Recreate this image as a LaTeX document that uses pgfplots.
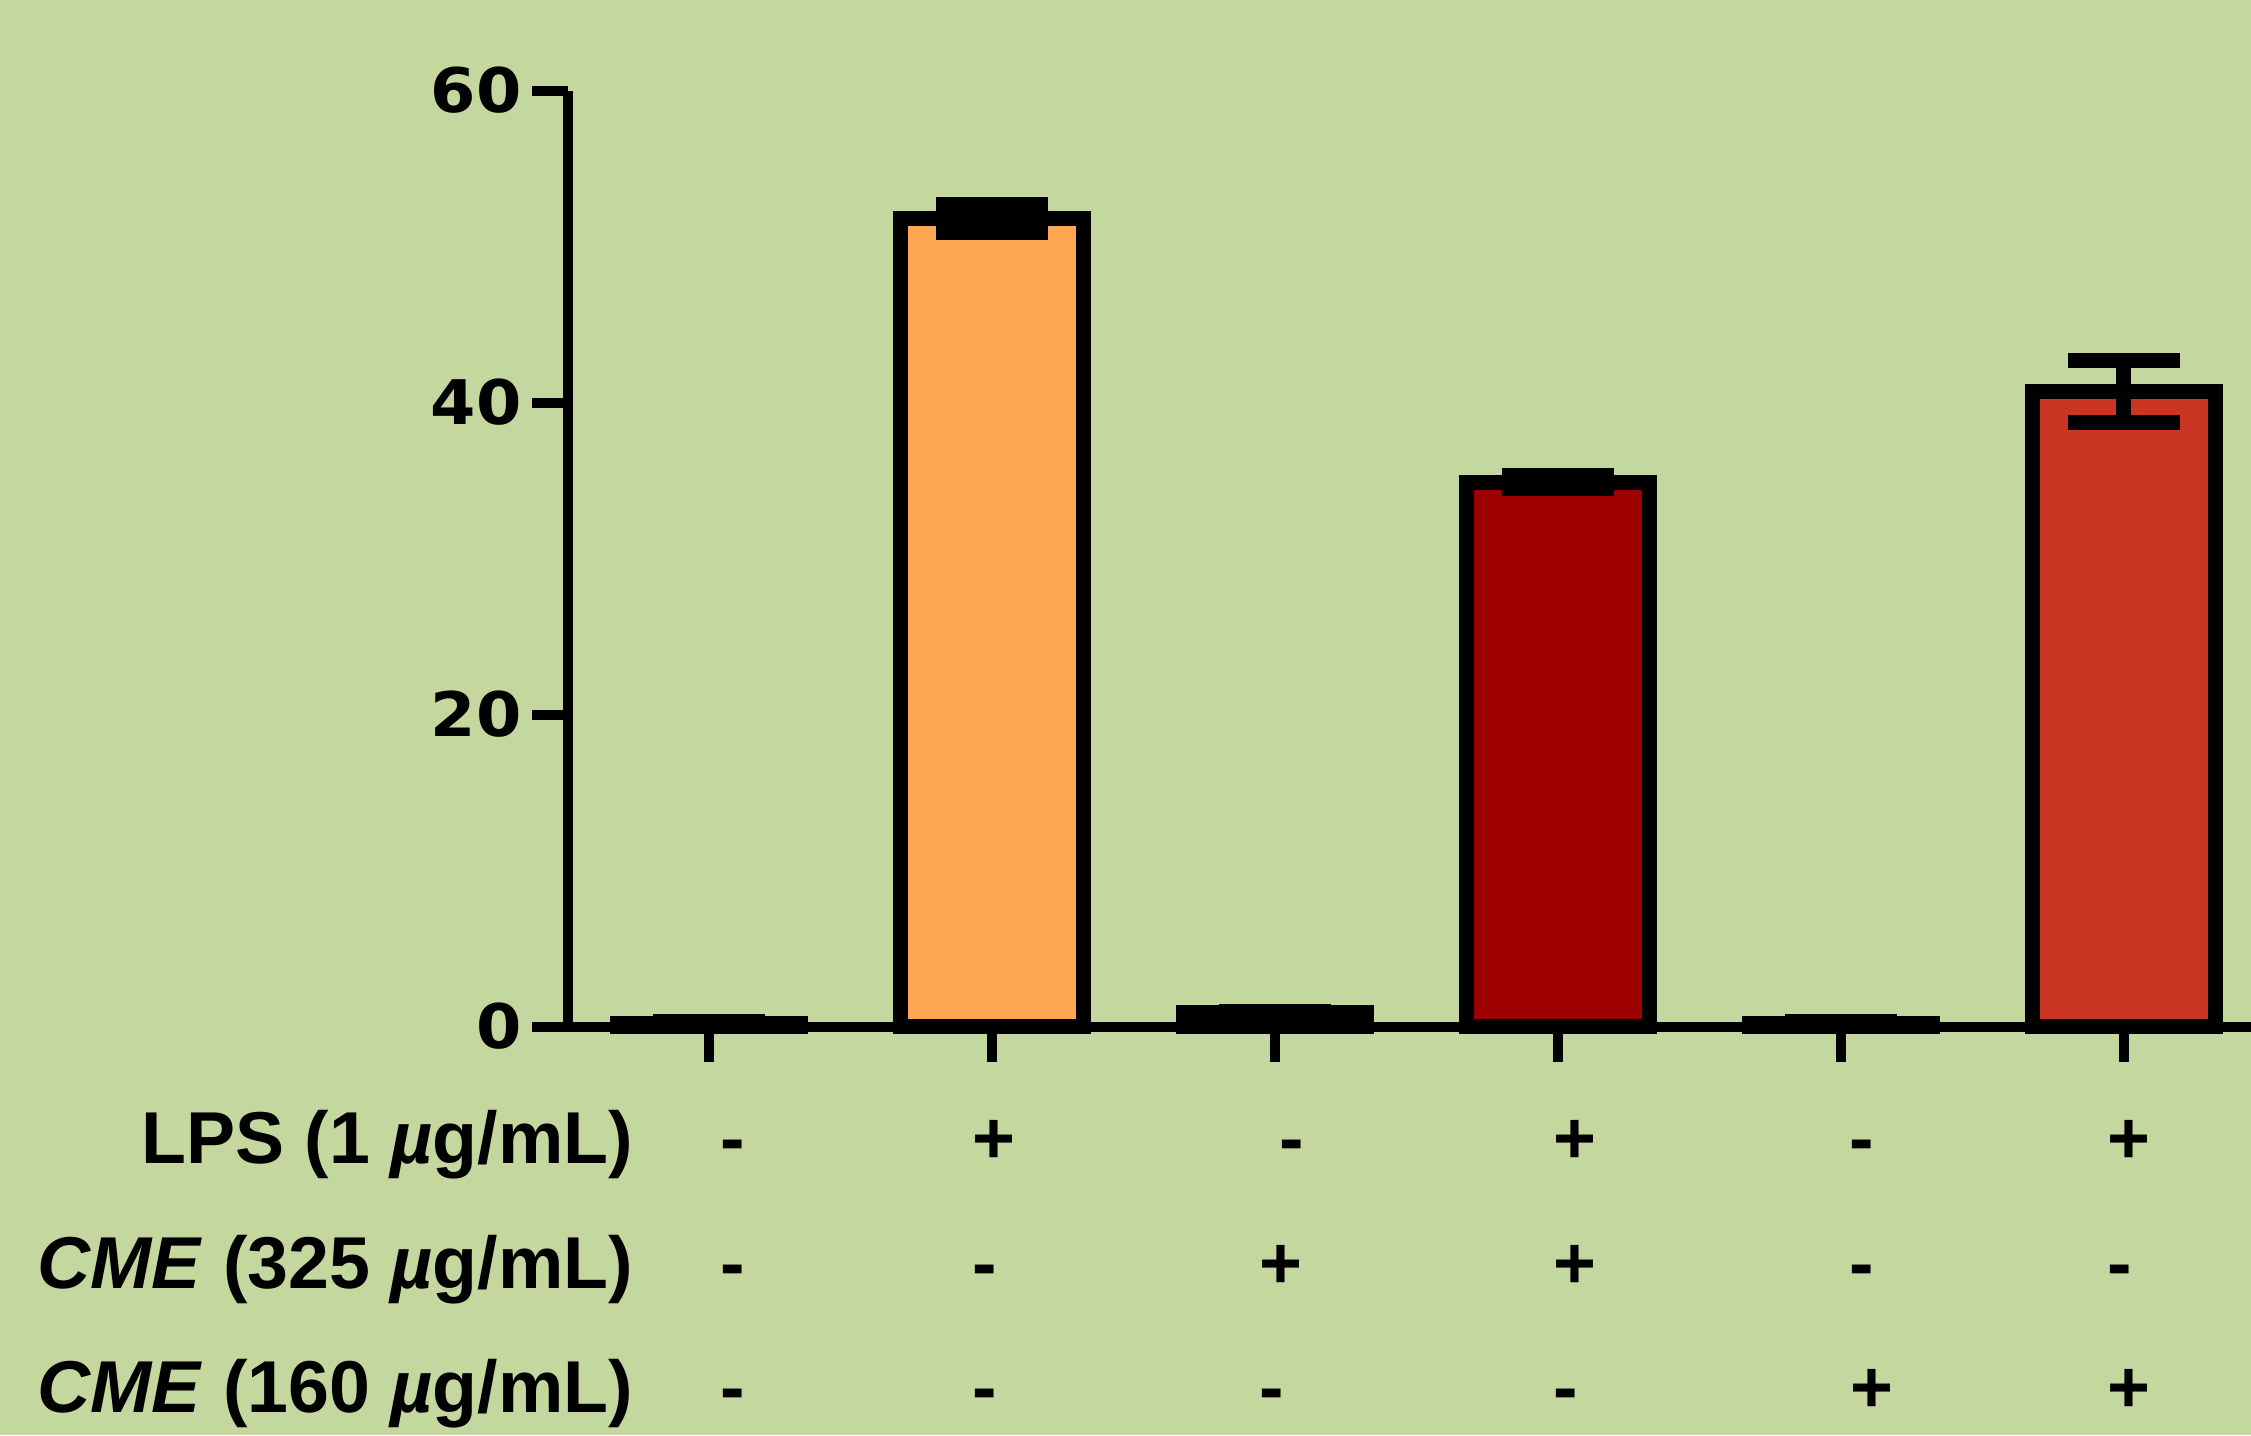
\documentclass[border=0pt]{standalone}
\usepackage{pgfplots}
\pgfplotsset{compat=1.18}
\usepackage{fontspec}
\setmainfont{Liberation Sans}
\newfontfamily\tickfont{DejaVu Sans}[FakeStretch=1.06]
\definecolor{bg}{HTML}{C4D79E}
\definecolor{cOrange}{HTML}{FFA650}
\definecolor{cDark}{HTML}{9E0000}
\definecolor{cRed}{HTML}{CB3624}
\pgfplotsset{
  barst/.style={draw=black, line width=3pt, bar shift=0pt,
    error bars/.cd, y dir=both, y explicit,
    error bar style={line width=3pt, black},
    error mark options={line width=3pt, mark size=11.2pt, rotate=90, black}},
}
\begin{document}
\begin{tikzpicture}
\fill[bg] (0pt,0pt) rectangle (450.2pt,-287pt);
\path[use as bounding box] (0pt,0pt) rectangle (450.2pt,-287pt);
\begin{axis}[at={(113.5pt,-205.3pt)}, anchor=south west, scale only axis,
  width=336.7pt, height=187.2pt,
  xmin=-0.5, xmax=5.45, ymin=0, ymax=60,
  axis x line=bottom, axis y line=left,
  axis line style={-, line width=2pt, black},
  tick align=outside, major tick length=7pt,
  tick style={line width=2pt, black},
  xtick={0,1,2,3,4,5}, xticklabels={},
  ytick={0,20,40,60},
  /pgf/number format/assume math mode=true,
  yticklabel style={font=\tickfont\bfseries\fontsize{12.3}{14}\selectfont, inner xsep=2pt},
  clip=false, ybar, bar width=36.6pt]
\addplot[fill=white, barst] coordinates {(0,0.2) +- (0,0.15)};
\addplot[fill=cOrange, barst] coordinates {(1,51.8) +- (0,0.9)};
\addplot[fill=cDark, barst] coordinates {(2,0.87) +- (0,0.1)};
\addplot[fill=cDark, barst] coordinates {(3,34.9) +- (0,0.4)};
\addplot[fill=cRed, barst] coordinates {(4,0.22) +- (0,0.13)};
\addplot[fill=cRed, barst] coordinates {(5,40.7) +- (0,2.0)};
\end{axis}
\begin{scope}[every node/.style={font=\bfseries\fontsize{14.7}{18}\selectfont, inner sep=0pt}]
\node[anchor=base east] at (126.8pt,-232.6pt) {LPS (1 \textit{µ}g/mL)};
\node[anchor=base east] at (126.8pt,-257.6pt) {\textit{CME} (325 \textit{µ}g/mL)};
\node[anchor=base east] at (126.8pt,-282.4pt) {\textit{CME} (160 \textit{µ}g/mL)};
\foreach \x/\s in {146.6/-,198.8/+,258.4/-,315/+,372.4/-,425.8/+}
  \node[anchor=base] at (\x pt,-232.6pt) {\s};
\foreach \x/\s in {146.6/-,197/-,256.2/+,315/+,372.4/-,424/-}
  \node[anchor=base] at (\x pt,-257.6pt) {\s};
\foreach \x/\s in {146.6/-,197/-,254.4/-,313.2/-,374.4/+,425.8/+}
  \node[anchor=base] at (\x pt,-282.4pt) {\s};
\end{scope}
\end{tikzpicture}
\end{document}
